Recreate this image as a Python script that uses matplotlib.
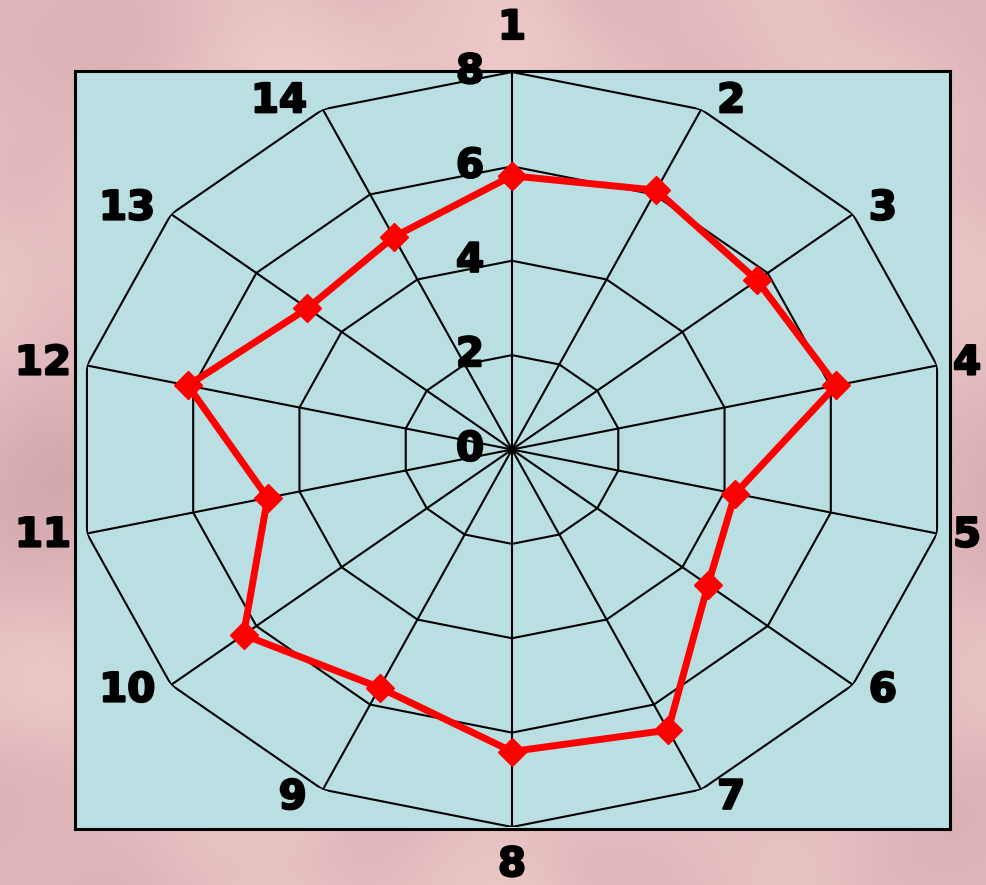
import numpy as np
import matplotlib
matplotlib.use('Agg')
import matplotlib.pyplot as plt
import matplotlib.patheffects as pe

# Radar data: 14 categories, one series
categories = ['1', '2', '3', '4', '5', '6', '7', '8', '9', '10', '11', '12', '13', '14']
values = [5.8, 6.1, 5.75, 6.1, 4.2, 4.6, 6.6, 6.4, 5.6, 6.3, 4.6, 6.1, 4.8, 5.0]
rings = [2, 4, 6, 8]
ring_labels = ['0', '2', '4', '6', '8']
r_max = 8

n = len(categories)
angles = np.arange(n) * 2 * np.pi / n

fig = plt.figure(figsize=(9.86, 8.85), dpi=100)
fig.patch.set_facecolor('#e6bfc1')

# Soft mottled pink backdrop
rng = np.random.default_rng(7)
noise = rng.standard_normal((180, 200))
fx = np.fft.fftfreq(200)[None, :]
fy = np.fft.fftfreq(180)[:, None]
smooth = np.real(np.fft.ifft2(np.fft.fft2(noise) * np.exp(-(fx ** 2 + fy ** 2) / (2 * 0.016 ** 2))))
smooth = (smooth - smooth.mean()) / smooth.std()
base = np.array([231, 192, 194]) / 255
tex = np.clip(base[None, None, :] + smooth[:, :, None] * np.array([6, 7, 6])[None, None, :] / 255, 0, 1)
back = fig.add_axes([0, 0, 1, 1], zorder=-5)
back.imshow(tex, aspect='auto', interpolation='bicubic', extent=[0, 1, 0, 1])
back.axis('off')

# Plot area rectangle behind the radar
bg = fig.add_axes([75 / 986, 1 - 829 / 885, 875 / 986, 758 / 885])
bg.set_facecolor('#b9dfe3')
bg.set_xticks([])
bg.set_yticks([])
for s in bg.spines.values():
    s.set_linewidth(2.2)
    s.set_color('black')

ax = fig.add_axes([76 / 986, 1 - 827 / 885, 872 / 986, 755 / 885], projection='polar')
ax.set_aspect('auto')
ax.set_theta_zero_location('N')
ax.set_theta_direction(-1)
ax.set_ylim(0, r_max)
ax.patch.set_visible(False)
ax.spines['polar'].set_visible(False)
ax.grid(False)
ax.set_xticks([])
ax.set_yticks([])

closed = np.append(angles, angles[0])

# Polygon rings and spokes
for r in rings:
    ax.plot(closed, [r] * (n + 1), color='black', lw=1.5, zorder=2)
for a in angles:
    ax.plot([a, a], [0, r_max], color='black', lw=1.5, zorder=2)

# Series
ax.plot(closed, values + values[:1], color='#ff0000', lw=5, zorder=3,
        marker='D', markersize=14, markerfacecolor='#ff0000',
        markeredgecolor='#ff0000', clip_on=False)

heavy = [pe.withStroke(linewidth=1.6, foreground='black')]
font = dict(fontsize=29, fontweight='bold', color='black', family='DejaVu Sans',
            path_effects=heavy)

# Radial axis labels
for lab in ring_labels:
    ax.annotate(lab, xy=(0, float(lab)), xytext=(-42, 0), textcoords='offset pixels',
                ha='center', va='center', annotation_clip=False, zorder=4, **font)

# Category labels around the outside
for lab, a in zip(categories, angles):
    s, c = np.sin(a), np.cos(a)
    if abs(s) < 1e-6:
        off = (0, 44 if c > 0 else -38)
        ha = 'center'
    else:
        off = (16 if s > 0 else -16, 9 * c)
        ha = 'left' if s > 0 else 'right'
    ax.annotate(lab, xy=(a, r_max), xytext=off, textcoords='offset pixels',
                ha=ha, va='center', annotation_clip=False, zorder=4, **font)

fig.savefig('out.png', dpi=100)
